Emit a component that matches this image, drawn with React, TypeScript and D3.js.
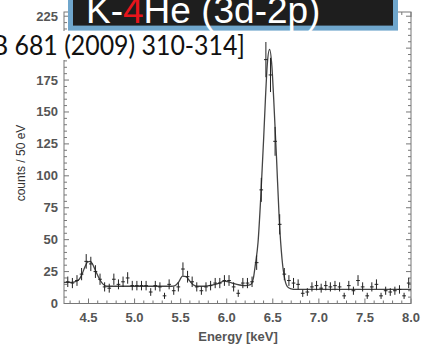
import React from 'react';
import * as d3 from 'd3';

// ---- data ----
const energies = [
  4.275, 4.325, 4.375, 4.425, 4.475, 4.525, 4.575, 4.625, 4.675, 4.725,
  4.775, 4.825, 4.875, 4.925, 4.975, 5.025, 5.075, 5.125, 5.175, 5.225,
  5.275, 5.325, 5.375, 5.425, 5.475, 5.525, 5.575, 5.625, 5.675, 5.725,
  5.775, 5.825, 5.875, 5.925, 5.975, 6.025, 6.075, 6.125, 6.175, 6.225,
  6.275, 6.325, 6.375, 6.425, 6.475, 6.525, 6.575, 6.625, 6.675, 6.725,
  6.775, 6.825, 6.875, 6.925, 6.975, 7.025, 7.075, 7.125, 7.175, 7.225,
  7.275, 7.325, 7.375, 7.425, 7.475, 7.525, 7.575, 7.625, 7.675, 7.725,
  7.775, 7.825, 7.875, 7.925, 7.975,
];
const counts = [
  17, 16, 18, 23, 33, 31, 25, 19, 13, 12,
  19, 15, 17, 20, 14, 14, 14, 14, 9, 14,
  13, 6, 15, 10, 13, 27, 21, 17, 13, 10,
  13, 14, 16, 16, 18, 18, 13, 8, 16, 16,
  17, 32, 89, 191, 179, 127, 62, 23, 18, 16,
  15, 8, 9, 13, 14, 12, 14, 13, 14, 13,
  6, 14, 10, 18, 13, 6, 13, 15, 6, 10,
  9, 10, 11, 6, 16,
];
const errors = [
  4.1, 4, 4.2, 4.8, 5.7, 5.6, 5, 4.4, 3.6, 3.5,
  4.4, 3.9, 4.1, 4.5, 3.7, 3.7, 3.7, 3.7, 3, 3.7,
  3.6, 2.4, 3.9, 3.2, 3.6, 5.2, 4.6, 4.1, 3.6, 3.2,
  3.6, 3.7, 4, 4, 4.2, 4.2, 3.6, 2.8, 4, 4,
  4.1, 5.7, 9.4, 13.8, 13.4, 11.3, 7.9, 4.8, 4.2, 4,
  3.9, 2.8, 3, 3.6, 3.7, 3.5, 3.7, 3.6, 3.7, 3.6,
  2.4, 3.7, 3.2, 4.2, 3.6, 2.4, 3.6, 3.9, 2.4, 3.2,
  3, 3.2, 3.3, 2.4, 4,
];
const fitEnergies = [
  4.234, 4.3, 4.35, 4.4, 4.43, 4.46, 4.49, 4.52, 4.55, 4.58,
  4.62, 4.66, 4.7, 4.75, 4.8, 5.0, 5.2, 5.4, 5.44, 5.48,
  5.52, 5.56, 5.6, 5.64, 5.68, 5.75, 5.85, 5.92, 5.97, 6.02,
  6.08, 6.14, 6.2, 6.25, 6.27, 6.29, 6.31, 6.34, 6.37, 6.4,
  6.42, 6.44, 6.465, 6.49, 6.51, 6.54, 6.57, 6.6, 6.63, 6.66,
  6.7, 6.75, 7.0, 7.5, 8.0,
];
const fitCounts = [
  16.5, 16.5, 17, 19, 23, 28.5, 32.5, 33, 30, 25,
  19, 15, 13.5, 13.5, 13.5, 13.5, 13.5, 13.5, 14, 17,
  21.5, 21, 17.5, 14.5, 13.5, 13.5, 14.5, 16, 17.5, 17,
  15.5, 14.5, 14, 14.5, 15.5, 20, 30, 48, 84, 128,
  160, 187, 199, 186, 160, 115, 66, 35, 19, 13,
  11.5, 11, 11, 11, 11,
];
const xTickLabels = ['4.5', '5.0', '5.5', '6.0', '6.5', '7.0', '7.5', '8.0'];
const yTickLabels = ['0', '25', '50', '75', '100', '125', '150', '175', '225'];

const W = 422;
const H = 345;
const L = 64, R = 411, T = 12, B = 303.5;

export default function App() {
  const x = d3.scaleLinear().domain([4.234, 8.0]).range([L, R]);
  const y = d3.scaleLinear().domain([0, 228.3]).range([B, T]);

  const line = d3
    .line<number>()
    .x((_, i) => x(fitEnergies[i]))
    .y((d) => y(d))
    .curve(d3.curveMonotoneX);

  const minorX = d3.range(43, 81).map((v) => v / 10);
  const minorY = d3.range(0, 230, 5);
  const axisColor = '#777';
  const labelColor = '#555';
  const font = '"Liberation Sans", Arial, sans-serif';

  return (
    <svg
      width={W}
      height={H}
      style={{ position: 'absolute', left: 0, top: 0, background: '#fff' }}
    >
      {/* frame */}
      <rect x={L} y={T} width={R - L} height={B - T} fill="none" stroke={axisColor} strokeWidth={1} />
      {/* x ticks */}
      {minorX.map((v, i) => {
        const major = Math.abs(v * 2 - Math.round(v * 2)) < 1e-6;
        const len = major ? 5 : 3;
        return (
          <g key={'xt' + i} stroke={axisColor} strokeWidth={1}>
            <line x1={x(v)} x2={x(v)} y1={B} y2={B - len} />
            <line x1={x(v)} x2={x(v)} y1={T} y2={T + len} />
          </g>
        );
      })}
      {/* y ticks */}
      {minorY.map((v, i) => {
        const major = v % 25 === 0;
        const len = major ? 5 : 3;
        return (
          <g key={'yt' + i} stroke={axisColor} strokeWidth={1}>
            <line x1={L} x2={L + len} y1={y(v)} y2={y(v)} />
            <line x1={R} x2={R - len} y1={y(v)} y2={y(v)} />
          </g>
        );
      })}
      {/* tick labels */}
      {xTickLabels.map((t) => (
        <text key={'xl' + t} x={x(+t)} y={321.5} textAnchor="middle" fontFamily={font} fontSize={13} fontWeight="bold" fill={labelColor}>
          {t}
        </text>
      ))}
      {yTickLabels.map((t) => (
        <text key={'yl' + t} x={58} y={y(+t) + 4.5} textAnchor="end" fontFamily={font} fontSize={13} fontWeight="bold" fill={labelColor}>
          {t}
        </text>
      ))}
      {/* axis titles */}
      <text x={238} y={341} textAnchor="middle" fontFamily={font} fontSize={13} fontWeight="bold" fill={labelColor}>
        Energy [keV]
      </text>
      <text transform="translate(25,163) rotate(-90)" textAnchor="middle" fontFamily={font} fontSize={12} fill="#333">
        counts / 50 eV
      </text>

      {/* fit curve */}
      <path d={line(fitCounts) || ''} fill="none" stroke="#444" strokeWidth={1.3} />

      {/* data points with error bars */}
      {energies.map((e, i) => {
        const cx = x(e);
        const cy = y(counts[i]);
        return (
          <g key={'p' + i} stroke="#222" strokeWidth={1}>
            <line x1={cx} x2={cx} y1={y(counts[i] + errors[i])} y2={y(counts[i] - errors[i])} />
            <line x1={x(e - 0.02)} x2={x(e + 0.02)} y1={cy} y2={cy} />
          </g>
        );
      })}

      {/* citation overlay */}
      <rect x={0} y={31} width={250} height={29} fill="#fff" />
      <text x={-8} y={54.5} fontFamily="Lato, sans-serif" fontSize={26} fill="#111" textLength={253} lengthAdjust="spacingAndGlyphs">
        B 681 (2009) 310-314]
      </text>

      {/* title box */}
      <rect x={68} y={-10} width={330} height={40.6} fill="#6fa6cc" />
      <rect x={73} y={-10} width={320} height={35.6} fill="#1e1e1e" />
      <text x={86} y={23} fontFamily={font} fontSize={37} fill="#fff">
        K-<tspan fill="#e8141b">4</tspan>He (3d-2p)
      </text>
    </svg>
  );
}
